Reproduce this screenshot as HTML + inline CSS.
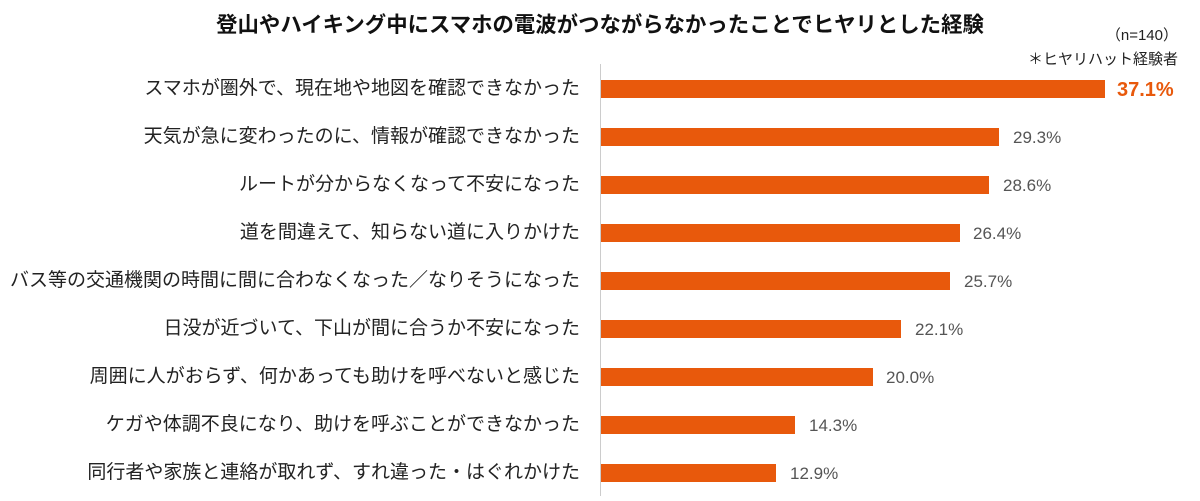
<!DOCTYPE html>
<html><head><meta charset="utf-8"><style>
body{margin:0;width:1200px;height:501px;background:#fff;font-family:"Liberation Sans","Noto Sans CJK JP",sans-serif;position:relative;overflow:hidden}
.t{position:absolute;left:0;width:1200px;top:8px;text-align:center;font-size:21.4px;font-weight:bold;color:#111}
.n{position:absolute;right:22px;top:50px;font-size:15px;color:#222;text-align:right;line-height:20px}
.ax{position:absolute;left:600px;top:64px;width:1px;height:432px;background:#ccc}
.l{position:absolute;right:620px;font-size:19px;color:#222;white-space:nowrap;line-height:20px}
.b{position:absolute;left:601px;height:18px;background:#e8590c}
.v{position:absolute;font-size:17px;color:#555;line-height:20px}
</style></head><body>
<div class="t">登山やハイキング中にスマホの電波がつながらなかったことでヒヤリとした経験</div>
<div class="n" style="top:26px">（n=140）</div>
<div class="n">＊ヒヤリハット経験者</div>
<div class="ax"></div>
<div class="l" style="top:79px">スマホが圏外で、現在地や地図を確認できなかった</div>
<div class="b" style="top:80px;width:504px"></div>
<div class="v" style="left:1117px;color:#e8590c;font-weight:bold;font-size:20px;top:80px">37.1%</div>
<div class="l" style="top:127px">天気が急に変わったのに、情報が確認できなかった</div>
<div class="b" style="top:128px;width:398px"></div>
<div class="v" style="top:128px;left:1013px">29.3%</div>
<div class="l" style="top:175px">ルートが分からなくなって不安になった</div>
<div class="b" style="top:176px;width:388px"></div>
<div class="v" style="top:176px;left:1003px">28.6%</div>
<div class="l" style="top:223px">道を間違えて、知らない道に入りかけた</div>
<div class="b" style="top:224px;width:359px"></div>
<div class="v" style="top:224px;left:973px">26.4%</div>
<div class="l" style="top:271px">バス等の交通機関の時間に間に合わなくなった／なりそうになった</div>
<div class="b" style="top:272px;width:349px"></div>
<div class="v" style="top:272px;left:964px">25.7%</div>
<div class="l" style="top:319px">日没が近づいて、下山が間に合うか不安になった</div>
<div class="b" style="top:320px;width:300px"></div>
<div class="v" style="top:320px;left:915px">22.1%</div>
<div class="l" style="top:367px">周囲に人がおらず、何かあっても助けを呼べないと感じた</div>
<div class="b" style="top:368px;width:272px"></div>
<div class="v" style="top:368px;left:886px">20.0%</div>
<div class="l" style="top:415px">ケガや体調不良になり、助けを呼ぶことができなかった</div>
<div class="b" style="top:416px;width:194px"></div>
<div class="v" style="top:416px;left:809px">14.3%</div>
<div class="l" style="top:463px">同行者や家族と連絡が取れず、すれ違った・はぐれかけた</div>
<div class="b" style="top:464px;width:175px"></div>
<div class="v" style="top:464px;left:790px">12.9%</div>
</body></html>
